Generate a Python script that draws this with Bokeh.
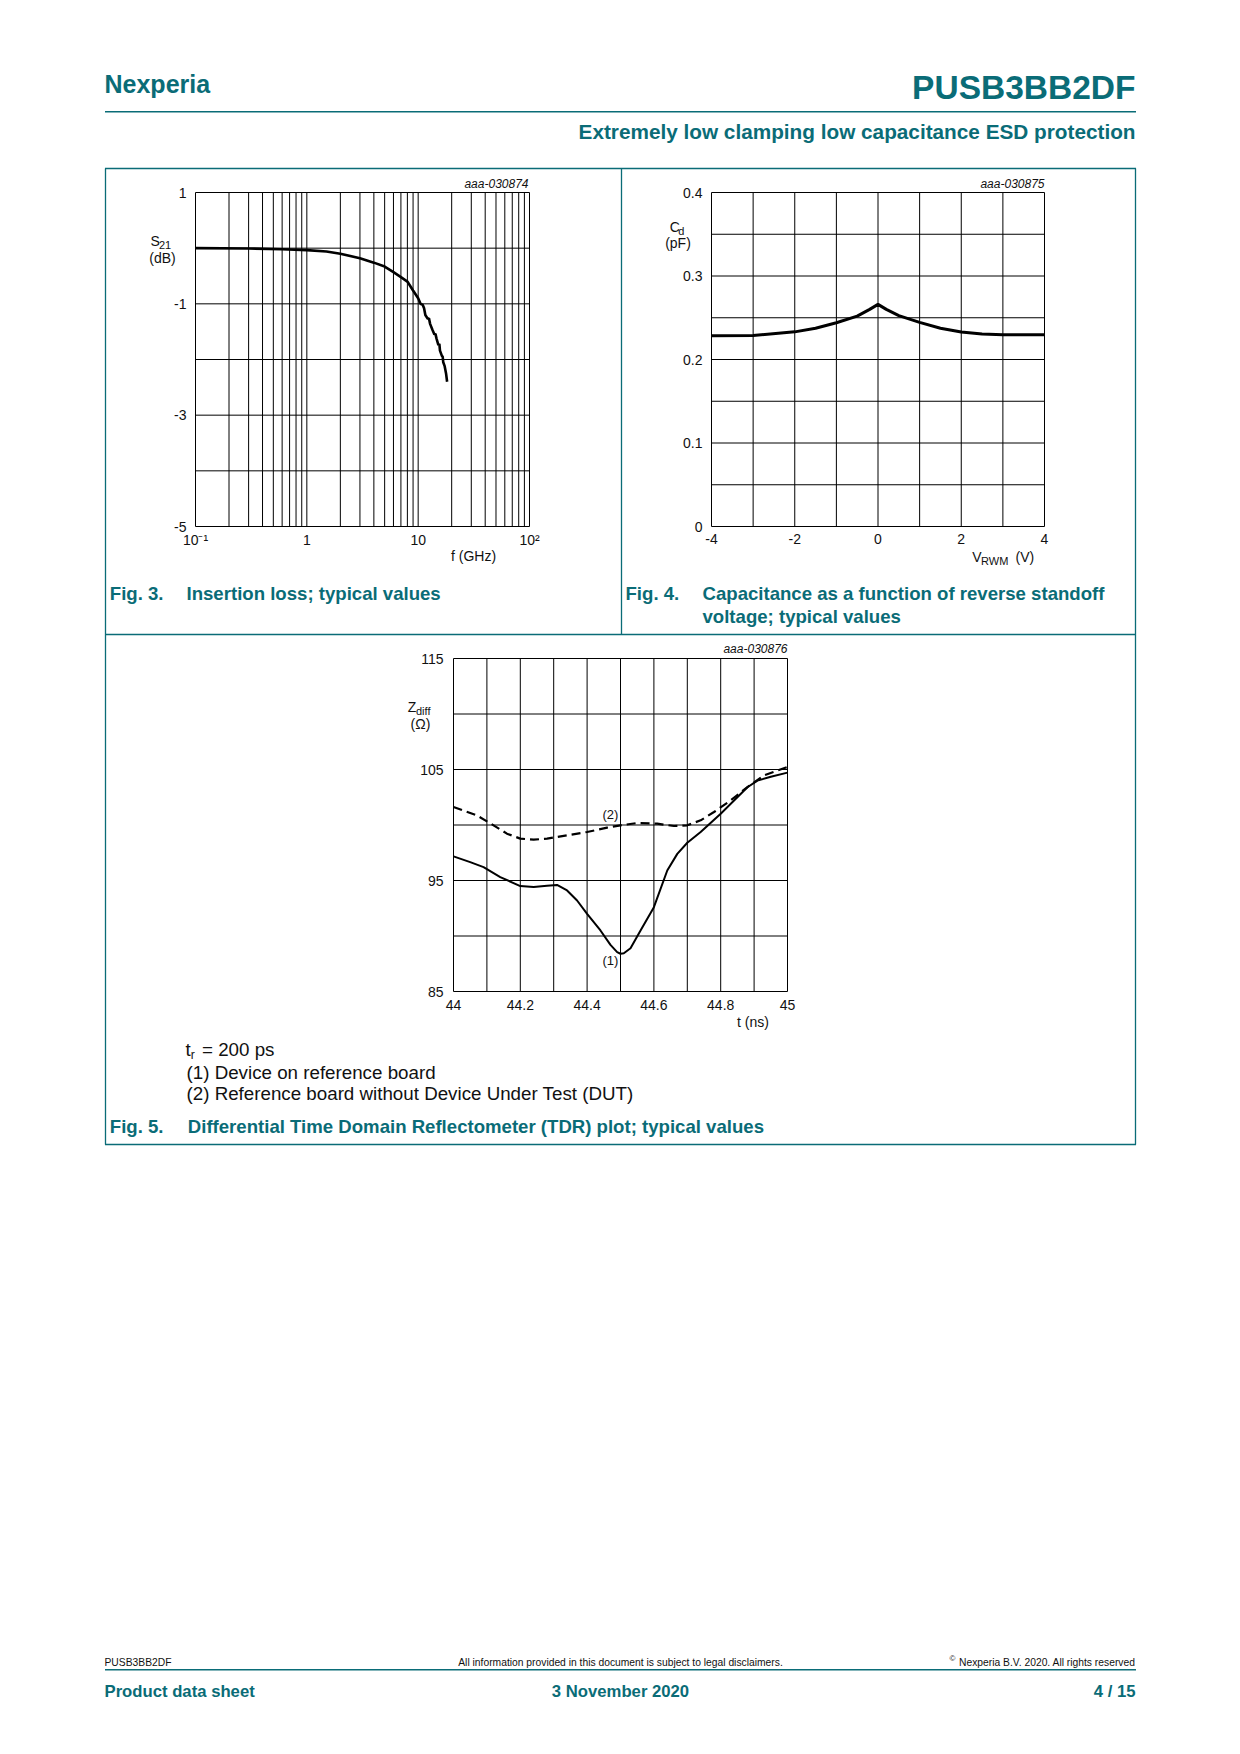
import math
from bokeh.plotting import figure
from bokeh.models import Range1d, FixedTicker, LinearAxis, LogAxis, LinearScale, LogScale
from bokeh.embed import file_html
from bokeh.resources import INLINE
from bokeh.core.properties import value

TEAL = "#0a6c77"
INK = "#111111"
FONT = "Liberation Sans"

# ---------------- data ----------------
# Fig. 3  insertion loss S21 (dB) vs f (GHz)
s21_freq_ghz = [0.1, 0.3, 0.6, 1.0, 1.5, 2.0, 3.0, 4.0, 5.0, 6.0, 7.0, 8.0, 9.0,
                10.0, 10.5, 11.0, 11.3, 11.6, 12.2, 12.5, 12.8, 13.4, 14.0, 14.3,
                14.6, 15.2, 15.5, 15.7, 16.3, 16.6, 16.8, 17.3, 17.8, 18.2]
s21_db = [0.0, -0.005, -0.02, -0.035, -0.06, -0.10, -0.18, -0.26, -0.33, -0.43,
          -0.52, -0.60, -0.76, -0.90, -1.00, -1.02, -1.08, -1.20, -1.27, -1.26,
          -1.36, -1.46, -1.55, -1.54, -1.62, -1.74, -1.72, -1.84, -1.93, -1.95,
          -2.05, -2.12, -2.25, -2.40]
s21_xticks = [0.1, 1, 10, 100]
s21_xlabels = ["10\u207b\u00b9", "1", "10", "10\u00b2"]
s21_yticks = [-5, -3, -1, 1]
s21_ylabels = ["-5", "-3", "-1", "1"]

# Fig. 4  capacitance Cd (pF) vs VRWM (V)
cd_vrwm_v = [-4, -3, -2, -1.5, -1, -0.5, -0.2, 0, 0.2, 0.5, 1.0, 1.5, 2.0, 2.5, 3.0, 4.0]
cd_pf = [0.2283, 0.2287, 0.2331, 0.2375, 0.2440, 0.2520, 0.2600, 0.2660, 0.2600,
         0.2525, 0.2445, 0.2375, 0.2330, 0.2305, 0.2295, 0.2295]
cd_xticks = [-4, -2, 0, 2, 4]
cd_xlabels = ["-4", "-2", "0", "2", "4"]
cd_yticks = [0, 0.1, 0.2, 0.3, 0.4]
cd_ylabels = ["0", "0.1", "0.2", "0.3", "0.4"]

# Fig. 5  TDR Zdiff (ohm) vs t (ns)
tdr_dev_t_ns = [44.0, 44.05, 44.09, 44.14, 44.2, 44.24, 44.28, 44.31, 44.34, 44.37,
                44.4, 44.44, 44.47, 44.49, 44.5, 44.51, 44.53, 44.56, 44.6, 44.64,
                44.67, 44.7, 44.74, 44.8, 44.84, 44.88, 44.91, 44.95, 45.0]
tdr_dev_z = [97.17, 96.66, 96.21, 95.31, 94.5, 94.41, 94.52, 94.6, 94.1, 93.2,
             92.0, 90.5, 89.2, 88.55, 88.4, 88.45, 88.9, 90.5, 92.6, 95.9,
             97.4, 98.4, 99.37, 101.02, 102.2, 103.4, 104.0, 104.35, 104.72]
tdr_ref_t_ns = [44.0, 44.07, 44.12, 44.16, 44.2, 44.24, 44.28, 44.34, 44.4, 44.46,
                44.5, 44.55, 44.61, 44.66, 44.7, 44.74, 44.78, 44.83, 44.88, 44.93, 45.0]
tdr_ref_z = [101.62, 100.87, 99.97, 99.22, 98.77, 98.68, 98.77, 99.07, 99.37, 99.76,
             99.97, 100.18, 100.12, 99.91, 99.97, 100.42, 101.17, 102.22, 103.42,
             104.47, 105.23]
tdr_xticks = [44, 44.2, 44.4, 44.6, 44.8, 45]
tdr_xlabels = ["44", "44.2", "44.4", "44.6", "44.8", "45"]
tdr_yticks = [85, 95, 105, 115]
tdr_ylabels = ["85", "95", "105", "115"]

# ---------------- page figure (frame = whole canvas, page pixel coords) ----------------
W, H = 1232, 1746
p = figure(width=W, height=H, x_range=Range1d(0, W), y_range=Range1d(H, 0),
           x_axis_location=None, y_axis_location=None, toolbar_location=None,
           output_backend="svg", min_border=0, min_border_left=0, min_border_right=0,
           min_border_top=0, min_border_bottom=0)
p.outline_line_color = None
p.background_fill_color = "white"
p.border_fill_color = "white"
for g in p.grid:
    g.visible = False
if p.title is not None:
    p.title.visible = False


def lin_x(v0, X0, v1, X1):
    s = (v1 - v0) / (X1 - X0)
    return Range1d(v0 - X0 * s, v0 + (W - X0) * s)


def log_x(v0, X0, v1, X1):
    l0, l1 = math.log10(v0), math.log10(v1)
    s = (l1 - l0) / (X1 - X0)
    return Range1d(10 ** (l0 - X0 * s), 10 ** (l0 + (W - X0) * s))


def lin_y(v_bot, Y_bot, v_top, Y_top):
    s = (v_top - v_bot) / (Y_bot - Y_top)
    return Range1d(v_bot - (H - Y_bot) * s, v_top + Y_top * s)


# chart plot areas on the page (pixels)
p.extra_x_ranges = {
    "f3x": log_x(0.1, 195, 100, 529),
    "f4x": lin_x(-4, 711, 4, 1044),
    "f5x": lin_x(44, 453, 45, 787),
}
p.extra_y_ranges = {
    "f3y": lin_y(-5, 526, 1, 192),
    "f4y": lin_y(0, 526, 0.4, 192),
    "f5y": lin_y(85, 991, 115, 658),
}
p.extra_x_scales = {"f3x": LogScale(), "f4x": LinearScale(), "f5x": LinearScale()}
p.extra_y_scales = {"f3y": LinearScale(), "f4y": LinearScale(), "f5y": LinearScale()}


def axis_style(ticks, labels, standoff):
    return dict(ticker=FixedTicker(ticks=ticks),
                major_label_overrides=dict(zip(ticks, labels)),
                axis_line_color=None, major_tick_line_color=None, minor_tick_line_color=None,
                major_tick_out=0, major_tick_in=0, minor_tick_out=0, minor_tick_in=0,
                major_label_standoff=standoff, major_label_text_font=FONT,
                major_label_text_font_size="14px", major_label_text_color=INK)


def chart(n, xticks, xlabels, yticks, ylabels, xgrid, ygrid, xstand, ystand, log=False):
    xn, yn = n + "x", n + "y"
    xcls = LogAxis if log else LinearAxis
    ax = xcls(x_range_name=xn, y_range_name=yn, fixed_location=ygrid[0],
              **axis_style(xticks, xlabels, xstand))
    p.add_layout(ax, "below")
    ay = LinearAxis(x_range_name=xn, y_range_name=yn, fixed_location=xgrid[0],
                    **axis_style(yticks, ylabels, ystand))
    p.add_layout(ay, "left")
    # grid + frame through the chart's own scales
    p.segment(x0=xgrid, y0=[ygrid[0]] * len(xgrid), x1=xgrid, y1=[ygrid[-1]] * len(xgrid),
              x_range_name=xn, y_range_name=yn, line_color="black", line_width=1)
    p.segment(x0=[xgrid[0]] * len(ygrid), y0=ygrid, x1=[xgrid[-1]] * len(ygrid), y1=ygrid,
              x_range_name=xn, y_range_name=yn, line_color="black", line_width=1)


def ptext(X, Yc, txt, size, style="normal", color=INK, align="left"):
    # in this renderer the given y lands on the visual middle of the text
    p.text(x=[X], y=[Yc], text=[txt], text_font=value(FONT),
           text_font_size=value(f"{size}px"), text_font_style=style,
           text_color=color, text_align=align, text_baseline="alphabetic")


def hline(Y, X0, X1, color=TEAL, w=1.3):
    p.segment(x0=[X0], y0=[Y], x1=[X1], y1=[Y], line_color=color, line_width=w)


def vline(X, Y0, Y1, color=TEAL, w=1.3):
    p.segment(x0=[X], y0=[Y0], x1=[X], y1=[Y1], line_color=color, line_width=w)


CAP = 18.6
NOTE = 18.75

# ---------------- header ----------------
ptext(104, 83.5, "Nexperia", 25, "bold", TEAL, "left")
ptext(1135, 87, "PUSB3BB2DF", 33.5, "bold", TEAL, "right")
hline(111.3, 104.5, 1135.5, w=1.6)
ptext(1135, 131, "Extremely low clamping low capacitance ESD protection", 20.75, "bold", TEAL, "right")

# ---------------- panel borders ----------------
hline(168, 104.5, 1135.5)
hline(634, 104.5, 1135.5)
hline(1144, 104.5, 1135.5)
vline(105, 168, 1144)
vline(1135, 168, 1144)
vline(621, 168, 634)

# ---------------- Fig. 3 ----------------
chart("f3", s21_xticks, s21_xlabels, s21_yticks, s21_ylabels,
      [m * 10.0 ** k for k in (-1, 0, 1) for m in range(1, 10)] + [100.0],
      [-5, -4, -3, -2, -1, 0, 1], 5, 9, log=True)
p.line(s21_freq_ghz, s21_db, x_range_name="f3x", y_range_name="f3y",
       line_color="black", line_width=2.6)
ptext(528, 183, "aaa-030874", 12, "italic", INK, "right")
ptext(150, 240, "S", 14)
ptext(158.5, 244, "21", 11)
ptext(162, 257, "(dB)", 14, align="center")
ptext(473, 555, "f (GHz)", 14, align="center")
ptext(109.3, 593, "Fig. 3.", CAP, "bold", TEAL)
ptext(186, 593, "Insertion loss; typical values", CAP, "bold", TEAL)

# ---------------- Fig. 4 ----------------
chart("f4", cd_xticks, cd_xlabels, cd_yticks, cd_ylabels,
      [-4, -3, -2, -1, 0, 1, 2, 3, 4],
      [0, 0.05, 0.1, 0.15, 0.2, 0.25, 0.3, 0.35, 0.4], 7, 9)
p.line(cd_vrwm_v, cd_pf, x_range_name="f4x", y_range_name="f4y",
       line_color="black", line_width=3)
ptext(1044, 183, "aaa-030875", 12, "italic", INK, "right")
ptext(669.3, 226, "C", 14)
ptext(677.8, 230, "d", 11)
ptext(677.5, 242, "(pF)", 14, align="center")
ptext(971.7, 556, "V", 14)
ptext(980.5, 560, "RWM", 11)
ptext(1015, 556, "(V)", 14)
ptext(625, 593, "Fig. 4.", CAP, "bold", TEAL)
ptext(702, 593, "Capacitance as a function of reverse standoff", CAP, "bold", TEAL)
ptext(702, 616, "voltage; typical values", CAP, "bold", TEAL)

# ---------------- Fig. 5 ----------------
chart("f5", tdr_xticks, tdr_xlabels, tdr_yticks, tdr_ylabels,
      [44 + i / 10 for i in range(11)],
      [85, 90, 95, 100, 105, 110, 115], 8, 10)
p.line(tdr_ref_t_ns, tdr_ref_z, x_range_name="f5x", y_range_name="f5y",
       line_color="black", line_width=2.2, line_dash="9 5")
p.line(tdr_dev_t_ns, tdr_dev_z, x_range_name="f5x", y_range_name="f5y",
       line_color="black", line_width=2.0)
p.text(x=[44.47, 44.47], y=[100.95, 87.8], text=["(2)", "(1)"], x_range_name="f5x",
       y_range_name="f5y", text_font=value(FONT), text_font_size=value("13px"),
       text_color=INK, text_align="center", text_baseline="middle")
ptext(787, 648, "aaa-030876", 12, "italic", INK, "right")
ptext(407.3, 706, "Z", 14)
ptext(415.5, 710, "diff", 11)
ptext(420, 723, "(\u03a9)", 14, align="center")
ptext(752.5, 1021, "t (ns)", 14, align="center")
ptext(185, 1049, "t", NOTE)
ptext(190.3, 1054, "r", 12)
ptext(201.5, 1049, "= 200 ps", NOTE)
ptext(186, 1072, "(1) Device on reference board", NOTE)
ptext(186, 1093, "(2) Reference board without Device Under Test (DUT)", NOTE)
ptext(109.3, 1126, "Fig. 5.", CAP, "bold", TEAL)
ptext(187.3, 1126, "Differential Time Domain Reflectometer (TDR) plot; typical values", CAP, "bold", TEAL)

# ---------------- footer ----------------
ptext(104, 1662, "PUSB3BB2DF", 10.3)
ptext(620, 1662, "All information provided in this document is subject to legal disclaimers.", 10.3, align="center")
ptext(949, 1658, "\u00a9", 8)
ptext(1135, 1662, "Nexperia B.V. 2020. All rights reserved", 10.3, align="right")
hline(1669.3, 104.5, 1135.5, w=1.6)
ptext(104, 1690.5, "Product data sheet", 16.7, "bold", TEAL)
ptext(620, 1690.5, "3 November 2020", 16.7, "bold", TEAL, "center")
ptext(1135, 1690.5, "4 / 15", 16.7, "bold", TEAL, "right")

open("out.html", "w").write(file_html(p, INLINE, "PUSB3BB2DF"))
